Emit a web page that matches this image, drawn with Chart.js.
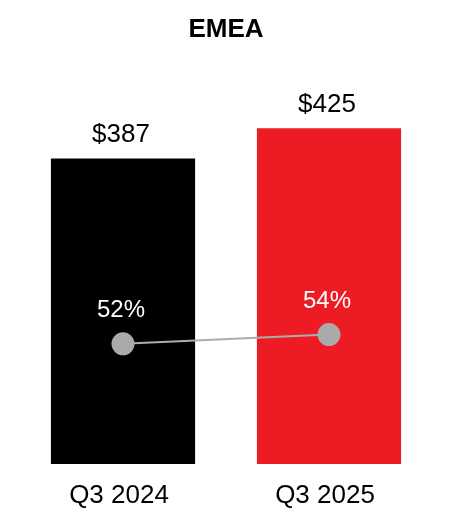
<!DOCTYPE html>
<html>
<head>
<meta charset="utf-8">
<script src="https://cdn.jsdelivr.net/npm/chart.js@4/dist/chart.umd.min.js"></script>
<style>
html,body{margin:0;padding:0;background:#fff;}
#wrap{width:452px;height:532px;}
</style>
</head>
<body>
<div id="wrap"><canvas id="c" width="452" height="532"></canvas></div>
<script>
const categories = ["Q3 2024", "Q3 2025"];
const revenue = [387, 425];
const revenueLabels = ["$387", "$425"];
const margin = [52, 54];
const marginLabels = ["52%", "54%"];
const barColors = ["#000000", "#ED1C24"];

const FONT = "'Liberation Sans', Arial, sans-serif";

const labelPlugin = {
  id: 'labelPlugin',
  afterDatasetsDraw(chart) {
    const ctx = chart.ctx;
    ctx.save();
    ctx.textAlign = 'center';
    ctx.textBaseline = 'middle';
    const barMeta = chart.getDatasetMeta(1);
    ctx.font = "26px " + FONT;
    ctx.fillStyle = '#000';
    barMeta.data.forEach((el, i) => {
      ctx.fillText(revenueLabels[i], el.x - 2, el.y - 24);
    });
    const lineMeta = chart.getDatasetMeta(0);
    ctx.font = "24px " + FONT;
    ctx.fillStyle = '#fff';
    lineMeta.data.forEach((el, i) => {
      ctx.fillText(marginLabels[i], el.x - 2, el.y - 33);
    });
    ctx.restore();
  }
};

new Chart(document.getElementById('c'), {
  type: 'bar',
  data: {
    labels: categories,
    datasets: [
      {
        type: 'line',
        data: margin,
        yAxisID: 'y1',
        order: 0,
        borderColor: '#acacac',
        borderWidth: 2,
        pointRadius: 11.5,
        pointBackgroundColor: '#aaaaaa',
        pointBorderWidth: 0,
        fill: false
      },
      {
        type: 'bar',
        data: revenue,
        yAxisID: 'y',
        order: 1,
        backgroundColor: barColors,
        barPercentage: 0.7,
        categoryPercentage: 1.0
      }
    ]
  },
  options: {
    responsive: false,
    animation: false,
    layout: { padding: { left: 20, right: 20, top: 0, bottom: 0 } },
    plugins: {
      legend: { display: false },
      tooltip: { enabled: false },
      title: {
        display: true,
        text: 'EMEA',
        color: '#000',
        font: { family: FONT, size: 26, weight: 'bold' },
        padding: { top: 14, bottom: 35 }
      }
    },
    scales: {
      x: {
        grid: { display: false, drawTicks: false },
        border: { display: false },
        ticks: { color: '#000', font: { family: FONT, size: 26 }, padding: 16, labelOffset: -4 },
        afterFit(scale) { scale.height = 68; }
      },
      y: { display: false, min: 0, max: 486 },
      y1: { display: false, min: 26, max: 109 }
    }
  },
  plugins: [labelPlugin]
});
</script>
</body>
</html>
